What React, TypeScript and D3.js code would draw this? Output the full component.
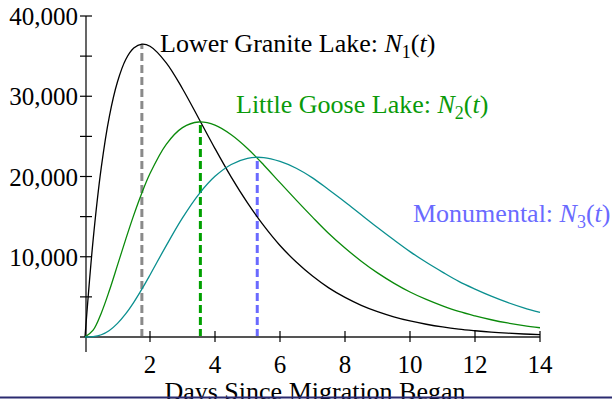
import React from 'react';
import * as d3 from 'd3';

// days since migration began (sample points)
const days = [0, 0.25, 0.5, 0.75, 1, 1.25, 1.5, 1.75, 2, 2.5, 3, 3.5, 4, 4.5, 5, 5.5, 6, 6.5, 7, 7.5, 8, 8.5, 9, 9.5, 10, 10.5, 11, 11.5, 12, 12.5, 13, 13.5, 14];

// fish counts at each dam
const lowerGranite = [0, 12100, 21100, 27500, 31800, 34550, 36000, 36500, 36230, 34170, 30940, 27230, 23480, 19920, 16710, 13870, 11400, 9340, 7590, 6120, 4930, 3950, 3160, 2520, 2000, 1590, 1250, 980, 780, 610, 480, 375, 295];
const littleGoose = [0, 850, 2970, 5790, 8950, 12140, 15190, 17950, 20370, 24010, 26090, 26790, 26400, 25200, 23490, 21440, 19230, 17060, 14940, 12900, 11090, 9450, 7990, 6720, 5610, 4680, 3880, 3180, 2630, 2150, 1750, 1420, 1155];
const monumental = [0, 40, 280, 820, 1700, 2880, 4320, 5960, 7730, 11390, 14840, 17780, 20020, 21500, 22270, 22360, 21880, 21030, 19830, 18350, 16830, 15230, 13640, 12110, 10640, 9310, 8090, 6930, 5970, 5090, 4310, 3640, 3070];

// peak day / peak count for the dashed drop lines
const peakDays = [1.75, 3.55, 5.3];
const peakCounts = [36500, 26800, 22400];

const xTicks = [2, 4, 6, 8, 10, 12, 14];
const yMajor = [10000, 20000, 30000, 40000];
const yMinor = [5000, 15000, 25000, 35000];

const W = 612;
const H = 399;
const font = '"Liberation Serif", serif';

export default function App() {
  const x = d3.scaleLinear().domain([0, 14]).range([85, 540]);
  const y = d3.scaleLinear().domain([0, 40000]).range([337, 16]);
  const fmt = d3.format(',');

  const line = (vals: number[]) =>
    d3.line<number>()
      .x((_, i) => x(days[i]))
      .y(d => y(d))
      .curve(d3.curveCatmullRom)(vals) || '';

  const series = [
    { vals: lowerGranite, color: '#000000', dash: '#8a8a8a' },
    { vals: littleGoose, color: '#0a8a0a', dash: '#00a000' },
    { vals: monumental, color: '#0a8f8f', dash: '#6a6aff' },
  ];

  const sub = (n: string) => (
    <>
      <tspan fontStyle="italic">N</tspan>
      <tspan fontSize="18" dy="6">{n}</tspan>
      <tspan dy="-6">(</tspan>
      <tspan fontStyle="italic">t</tspan>
      <tspan>)</tspan>
    </>
  );

  return (
    <div style={{ position: 'absolute', left: 0, top: 0 }}>
      <svg width={W} height={H} style={{ display: 'block', background: '#fff' }} fontFamily={font}>
        {/* dashed drop lines */}
        {series.map((s, i) => (
          <line key={'d' + i} x1={x(peakDays[i])} x2={x(peakDays[i])} y1={y(0)} y2={y(peakCounts[i])}
            stroke={s.dash} strokeWidth={3} strokeDasharray="8,4" />
        ))}

        {/* axes */}
        <line x1={80} x2={540} y1={y(0)} y2={y(0)} stroke="#555" strokeWidth={2} />
        <line x1={86} x2={86} y1={y(40000)} y2={352} stroke="#000" strokeWidth={1.2} />
        {[...yMajor, ...yMinor].map(v => (
          <line key={'yt' + v} x1={80} x2={92} y1={y(v)} y2={y(v)} stroke="#000" strokeWidth={1.2} />
        ))}
        {xTicks.map(t => (
          <line key={'xt' + t} x1={x(t)} x2={x(t)} y1={y(0) - 6} y2={y(0) + 5} stroke="#000" strokeWidth={1.2} />
        ))}

        {/* curves */}
        {series.map((s, i) => (
          <path key={'c' + i} d={line(s.vals)} fill="none" stroke={s.color} strokeWidth={1.3} />
        ))}

        {/* tick labels */}
        {yMajor.map(v => (
          <text key={'yl' + v} x={78} y={y(v) + 9} textAnchor="end" fontSize={25}>{fmt(v)}</text>
        ))}
        {xTicks.map(t => (
          <text key={'xl' + t} x={x(t)} y={373} textAnchor="middle" fontSize={25}>{t}</text>
        ))}

        {/* series labels */}
        <text x={160} y={52} fontSize={26} fill="#000">Lower Granite Lake: {sub('1')}</text>
        <text x={236} y={113} fontSize={26} fill="#0a9a0a">Little Goose Lake: {sub('2')}</text>
        <text x={413} y={222} fontSize={26} fill="#6a6aff">Monumental: {sub('3')}</text>

        {/* axis title, cut off by the bottom edge as in the original */}
        <text x={315} y={400} textAnchor="middle" fontSize={26}>Days Since Migration Began</text>

        <line x1={0} x2={W} y1={397.5} y2={397.5} stroke="#2b2b70" strokeWidth={2} />
      </svg>
    </div>
  );
}
